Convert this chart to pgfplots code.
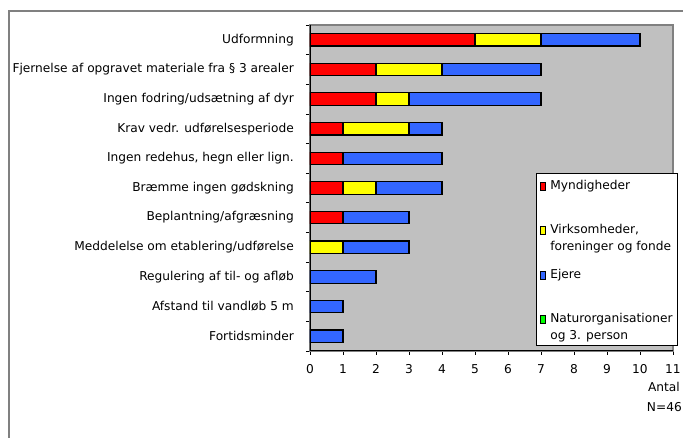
\documentclass[border=0pt]{standalone}
\usepackage{fontspec}
\setmainfont{DejaVu Sans}
\usepackage{pgfplots}
\pgfplotsset{compat=1.18}
\definecolor{bggray}{HTML}{C0C0C0}
\definecolor{myred}{HTML}{FF0000}
\definecolor{myyellow}{HTML}{FFFF00}
\definecolor{myblue}{HTML}{3366FF}
\definecolor{mygreen}{HTML}{00FF00}
\definecolor{framegray}{HTML}{808080}
\newcommand{\lfont}{\fontsize{12.2}{17}\selectfont}
\newcommand{\tfont}{\fontsize{12.2}{14}\selectfont}
\begin{document}
\begin{tikzpicture}[x=1pt,y=1pt]
\useasboundingbox (0,0) rectangle (683,438);
\fill[white] (0,0) rectangle (683,438);
\draw[framegray, line width=1.5pt] (9,-5) -- (9,427) -- (690,427);
\begin{axis}[
  at={(310pt,87pt)}, anchor=south west,
  width=363pt, height=326pt, scale only axis,
  xbar stacked, bar width=12.5pt,
  xmin=0, xmax=11, ymin=-0.5, ymax=10.5,
  xtick={0,...,11},
  ytick={-0.5,0.5,...,10.5},
  yticklabels={Fortidsminder,Afstand til vandløb 5 m,Regulering af til- og afløb,Meddelelse om etablering/udførelse,Beplantning/afgræsning,Bræmme ingen gødskning,{Ingen redehus, hegn eller lign.},Krav vedr. udførelsesperiode,Ingen fodring/udsætning af dyr,Fjernelse af opgravet materiale fra § 3 arealer,Udformning,{}},
  yticklabel style={yshift=14.82pt, xshift=-12pt, inner sep=0pt, anchor=east},
  xticklabel style={yshift=-6pt},
  tick align=outside, tick pos=left,
  major tick length=4pt,
  tick style={black, line width=0.8pt},
  ticklabel style={font=\tfont},
  /pgf/number format/assume math mode=true,
  axis background/.style={fill=bggray},
  axis line style={draw=framegray, line width=1.2pt},
  every axis plot post/.append style={draw=black, line width=1.2pt,
    legend image code/.code={\draw[##1, line width=0.8pt] (0pt,16pt) rectangle (5pt,24pt);}},
  legend style={at={(axis description cs:0.623,0.546)}, anchor=north west,
    draw=black, line width=0.8pt, fill=white, font=\lfont,
    cells={anchor=base west}, row sep=10pt, inner xsep=3pt, inner ysep=2pt,
    column sep=3pt},
]
\addplot[fill=myred] coordinates {(5,10) (2,9) (2,8) (1,7) (1,6) (1,5) (1,4) (0,3) (0,2) (0,1) (0,0)};
\addlegendentry{\begin{tabular}[b]{@{}l@{}}Myndigheder\\ \mbox{}\end{tabular}}
\addplot[fill=myyellow] coordinates {(2,10) (2,9) (1,8) (2,7) (0,6) (1,5) (0,4) (1,3) (0,2) (0,1) (0,0)};
\addlegendentry{\begin{tabular}[b]{@{}l@{}}Virksomheder,\\ foreninger og fonde\end{tabular}}
\addplot[fill=myblue] coordinates {(3,10) (3,9) (4,8) (1,7) (3,6) (2,5) (2,4) (2,3) (2,2) (1,1) (1,0)};
\addlegendentry{\begin{tabular}[b]{@{}l@{}}Ejere\\ \mbox{}\end{tabular}}
\addlegendimage{fill=mygreen, draw=black}
\addlegendentry{\begin{tabular}[b]{@{}l@{}}Naturorganisationer\\ og 3. person\end{tabular}}
\draw[black, line width=1.2pt] (axis cs:0,10.5) -- (axis cs:0,-0.5) -- (axis cs:11,-0.5);
\end{axis}
\node[anchor=east, inner sep=0pt, font=\tfont] at (680,51) {Antal};
\node[anchor=east, inner sep=0pt, font=\tfont] at (682,31) {N=46};
\end{tikzpicture}
\end{document}
